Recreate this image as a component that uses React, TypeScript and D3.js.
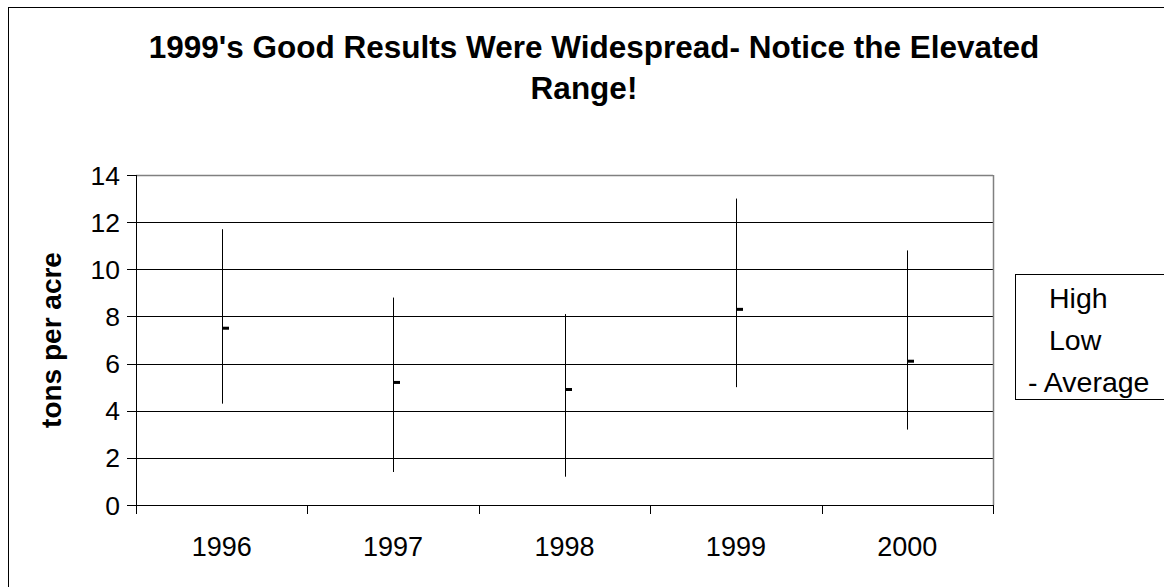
import React from "react";
import * as d3 from "d3";

const years = ["1996", "1997", "1998", "1999", "2000"];
const highs = [11.7, 8.8, 8.1, 13.0, 10.8];
const lows = [4.3, 1.4, 1.2, 5.0, 3.2];
const averages = [7.5, 5.2, 4.9, 8.3, 6.1];
const yTicks = [0, 2, 4, 6, 8, 10, 12, 14];
const legendLabels = ["High", "Low", "- Average"];

export default function App() {
  const W = 1164, H = 587;
  const left = 136, right = 993, top = 175, bottom = 505;
  const x = d3.scaleBand<string>().domain(years).range([left, right]).paddingInner(0).paddingOuter(0);
  const y = d3.scaleLinear().domain([0, 14]).range([bottom, top]);
  const font = "'Liberation Sans', Arial, sans-serif";
  const bounds = d3.range(years.length + 1).map((i) => left + i * x.step());
  return (
    <svg width={W} height={H} style={{ position: "absolute", left: 0, top: 0, display: "block" }} fontFamily={font}>
      <rect x={0} y={0} width={W} height={H} fill="#fff" />
      <rect x={8.5} y={7.5} width={1300} height={700} fill="none" stroke="#000" strokeWidth={1} />
      <text x={594} y={58} textAnchor="middle" fontSize={31.5} fontWeight="bold">
        1999's Good Results Were Widespread- Notice the Elevated
      </text>
      <text x={584} y={99} textAnchor="middle" fontSize={31.5} fontWeight="bold">Range!</text>
      {/* gridlines */}
      {yTicks.filter((t) => t > 0 && t < 14).map((t) => (
        <line key={t} x1={left} x2={right} y1={Math.round(y(t)) + 0.5} y2={Math.round(y(t)) + 0.5} stroke="#000" strokeWidth={1} />
      ))}
      {/* plot border */}
      <line x1={left} x2={right} y1={top + 0.5} y2={top + 0.5} stroke="#808080" strokeWidth={1.5} />
      <line x1={right + 0.5} x2={right + 0.5} y1={top} y2={bottom} stroke="#808080" strokeWidth={1.5} />
      {/* y axis */}
      <line x1={left + 0.5} x2={left + 0.5} y1={top} y2={bottom} stroke="#000" strokeWidth={1} />
      {yTicks.map((t) => (
        <g key={t}>
          <line x1={left - 9} x2={left} y1={Math.round(y(t)) + 0.5} y2={Math.round(y(t)) + 0.5} stroke="#000" />
          <text x={120} y={y(t) + 9.5} textAnchor="end" fontSize={26.5}>{t}</text>
        </g>
      ))}
      {/* x axis */}
      <line x1={left} x2={right} y1={bottom + 0.5} y2={bottom + 0.5} stroke="#000" strokeWidth={1} />
      {bounds.map((bx, i) => (
        <line key={i} x1={Math.round(bx) + 0.5} x2={Math.round(bx) + 0.5} y1={bottom} y2={bottom + 9} stroke="#000" />
      ))}
      {years.map((yr) => (
        <text key={yr} x={(x(yr) as number) + x.bandwidth() / 2} y={556} textAnchor="middle" fontSize={27}>{yr}</text>
      ))}
      {/* high-low lines and averages */}
      {years.map((yr, i) => {
        const cx = Math.round((x(yr) as number) + x.bandwidth() / 2) + 0.5;
        return (
          <g key={yr}>
            <line x1={cx} x2={cx} y1={y(highs[i])} y2={y(lows[i])} stroke="#000" strokeWidth={1} />
            <rect x={cx - 0.5} y={y(averages[i]) - 1.5} width={7} height={3} fill="#000" />
          </g>
        );
      })}
      <text transform={`translate(61,${(top + bottom) / 2}) rotate(-90)`} textAnchor="middle" fontSize={28} fontWeight="bold">
        tons per acre
      </text>
      {/* legend */}
      <rect x={1015.5} y={274.5} width={200} height={125} fill="#fff" stroke="#000" strokeWidth={1} />
      {legendLabels.map((l, i) => (
        <text key={l} x={i === 2 ? 1028 : 1049} y={308 + i * 42} fontSize={28.5}>{l}</text>
      ))}
    </svg>
  );
}
